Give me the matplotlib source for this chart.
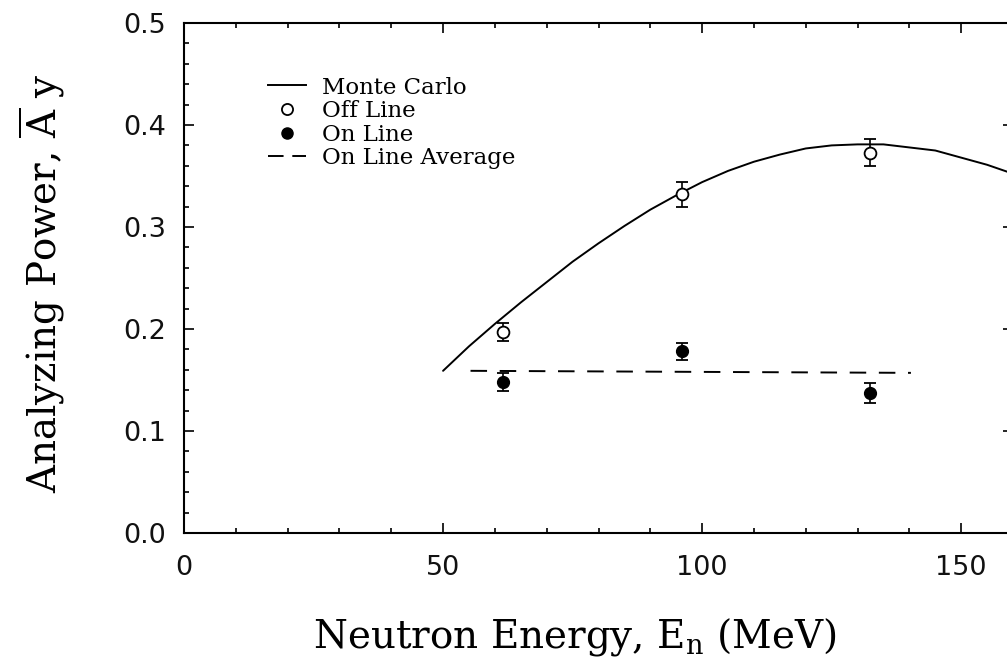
import matplotlib
matplotlib.use("Agg")
import matplotlib.pyplot as plt
from matplotlib.lines import Line2D
from matplotlib.ticker import MultipleLocator

plt.rcParams['mathtext.fontset'] = 'dejavuserif'

# ---- data ----
mc_energy = [50, 55, 60, 65, 70, 75, 80, 85, 90, 95, 100, 105, 110, 115,
             120, 125, 130, 135, 140, 145, 150, 155, 159]
mc_ay = [0.159, 0.183, 0.205, 0.226, 0.246, 0.266, 0.284, 0.301, 0.317,
         0.331, 0.344, 0.355, 0.364, 0.371, 0.377, 0.380, 0.381, 0.381,
         0.378, 0.375, 0.368, 0.361, 0.354]

off_energy = [61.6, 96.1, 132.4]
off_ay = [0.197, 0.332, 0.373]
off_err = [0.009, 0.012, 0.013]

on_energy = [61.6, 96.1, 132.4]
on_ay = [0.148, 0.178, 0.137]
on_err = [0.009, 0.008, 0.010]

avg_energy = [55.3, 140.3]
avg_ay = [0.159, 0.157]

x_ticks = [0, 50, 100, 150]
y_ticks = [0.0, 0.1, 0.2, 0.3, 0.4, 0.5]

legend_labels = ["Monte Carlo", "Off Line", "On Line", "On Line Average"]

# ---- figure ----
W, H = 1007, 662
fig = plt.figure(figsize=(W / 100, H / 100), dpi=100)
ax_left, ax_right, ax_top, ax_bottom = 184, 1013, 23, 533
ax = fig.add_axes([ax_left / W, (H - ax_bottom) / H,
                   (ax_right - ax_left) / W, (ax_bottom - ax_top) / H])

ax.plot(mc_energy, mc_ay, color='black', lw=1.4, solid_capstyle='round',
        solid_joinstyle='round')
ax.plot(avg_energy, avg_ay, color='black', lw=1.4, dashes=(8.5, 6.5))
ax.errorbar(off_energy, off_ay, yerr=off_err, fmt='o', mfc='white',
            mec='black', mew=1.3, ms=8.5, ecolor='black', elinewidth=1.2,
            capsize=4.3, capthick=1.3, color='black', zorder=3)
ax.errorbar(on_energy, on_ay, yerr=on_err, fmt='o', mfc='black',
            mec='black', ms=8.5, ecolor='black', elinewidth=1.2,
            capsize=4.3, capthick=1.3, color='black', zorder=3)

ax.set_xlim(0, 160)
ax.set_ylim(0, 0.5)
ax.set_xticks(x_ticks)
ax.set_xticklabels([str(v) for v in x_ticks])
ax.set_yticks(y_ticks)
ax.set_yticklabels([f"{v:.1f}" for v in y_ticks])
ax.xaxis.set_minor_locator(MultipleLocator(10))
ax.yaxis.set_minor_locator(MultipleLocator(0.02))
ax.tick_params(which='both', direction='in', top=True, right=True,
               width=1.2, color='black')
ax.tick_params(which='major', length=7)
ax.tick_params(which='minor', length=3.5)
ax.tick_params(axis='y', which='major', pad=13)
ax.tick_params(axis='x', which='major', pad=16)
for lab in ax.get_xticklabels() + ax.get_yticklabels():
    lab.set_fontfamily('DejaVu Sans')
    lab.set_fontsize(19.5)
    lab.set_color('#111111')
for sp in ax.spines.values():
    sp.set_linewidth(1.5)

ax.set_xlabel(r"Neutron Energy, $\mathrm{E}_{\mathrm{n}}$ (MeV)",
              fontfamily='DejaVu Serif', fontsize=28)
ax.xaxis.set_label_coords((575 - ax_left) / (ax_right - ax_left),
                          -(647 - ax_bottom) / (ax_bottom - ax_top))
ax.xaxis.label.set_va('baseline')
ax.set_ylabel(r"Analyzing Power, $\overline{\mathrm{A}}$ y",
              fontfamily='DejaVu Serif', fontsize=28)
ax.yaxis.set_label_coords(-(184 - 42) / (ax_right - ax_left),
                          (ax_bottom - 283) / (ax_bottom - ax_top))
ax.yaxis.label.set_va('center')

handles = [
    Line2D([], [], color='black', lw=1.4),
    Line2D([], [], ls='none', marker='o', mfc='white', mec='black', mew=1.3, ms=8),
    Line2D([], [], ls='none', marker='o', mfc='black', mec='black', ms=8),
    Line2D([], [], color='black', lw=1.4, dashes=(8, 4.5)),
]
leg = ax.legend(handles, legend_labels, loc='upper left',
                bbox_to_anchor=(268 / W, (H - 76.5) / H),
                bbox_transform=fig.transFigure, frameon=False,
                prop={'family': 'DejaVu Serif', 'size': 16.5},
                borderpad=0, borderaxespad=0, labelspacing=0.07,
                handlelength=1.65, handletextpad=0.72, markerfirst=True)

fig.savefig("out.png", dpi=100)
